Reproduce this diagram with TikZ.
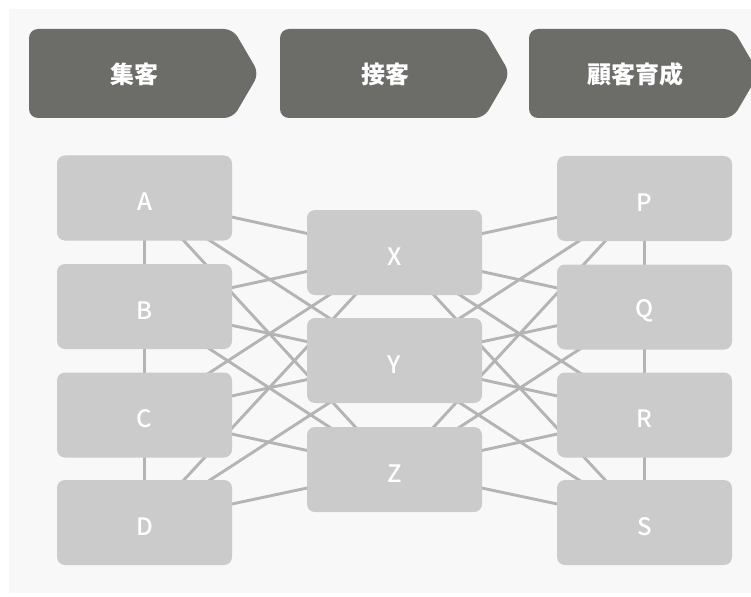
\documentclass[tikz,border=0pt]{standalone}
\usepackage{fontspec}
\setmainfont{Noto Sans}
\newfontfamily\cjk{Noto Sans CJK JP}
\newfontfamily\cjkmed{Noto Sans CJK JP Medium}
\definecolor{panelbg}{RGB}{248,248,248}
\definecolor{hdrfill}{RGB}{108,109,105}
\definecolor{boxfill}{RGB}{203,203,203}
\definecolor{linkcol}{RGB}{180,180,180}
\tikzset{
  hdrshape/.style={fill=hdrfill, rounded corners=9pt},
  hdrtext/.style={text=white, font=\cjk\bfseries\fontsize{24}{24}\selectfont, inner sep=0pt},
  itembox/.style={fill=boxfill, rounded corners=8pt, minimum width=175pt, minimum height=85pt, inner sep=0pt, text=white},
  itemtext/.style={text=white, inner sep=0pt, font=\cjkmed\fontsize{24}{24}\selectfont},
  link/.style={draw=linkcol, line width=2.9pt}
}
\begin{document}
\begin{tikzpicture}[x=1pt,y=-1pt]
\useasboundingbox (0,0) rectangle (751,596);
\clip (0,0) rectangle (751,596);
\fill[white] (0,0) rectangle (751,596);
\fill[panelbg] (9,9) rectangle (760,593);
% header chevrons
\fill[hdrshape] (29,29) -- (233,29) -- (259,73.5) -- (233,118) -- (29,118) -- cycle;
\fill[hdrshape] (280,29) -- (484,29) -- (510,73.5) -- (484,118) -- (280,118) -- cycle;
\fill[hdrshape] (529,29) -- (733,29) -- (759,73.5) -- (733,118) -- (529,118) -- cycle;
\node[hdrtext] (h1) at (134,74) {集客};
\node[hdrtext] (h2) at (385,74) {接客};
\node[hdrtext] (h3) at (635,74) {顧客育成};
% coordinates of boxes
\coordinate (cA) at (144.5,198);
\coordinate (cB) at (144.5,306.5);
\coordinate (cC) at (144.5,415);
\coordinate (cD) at (144.5,522.5);
\coordinate (cX) at (394.5,252.5);
\coordinate (cY) at (394.5,360.5);
\coordinate (cZ) at (394.5,469.5);
\coordinate (cP) at (644.5,198.5);
\coordinate (cQ) at (644.5,307);
\coordinate (cR) at (644.5,415);
\coordinate (cS) at (644.5,522.5);
% links (behind boxes)
\foreach \l in {A,B,C,D}{
  \foreach \m in {X,Y,Z}{
    \draw[link] (c\l) -- (c\m);
  }
}
\foreach \m in {X,Y,Z}{
  \foreach \r in {P,Q,R,S}{
    \draw[link] (c\m) -- (c\r);
  }
}
\draw[link] (cA) -- (cB) -- (cC) -- (cD);
\draw[link] (cP) -- (cQ) -- (cR) -- (cS);
% boxes
\foreach \n in {A,B,C,D,X,Y,Z,P,Q,R,S}{
  \node[itembox] (\n) at (c\n) {};
  \node[itemtext] (t\n) at ([yshift=-4pt]c\n) {\n};
}
\end{tikzpicture}
\end{document}
